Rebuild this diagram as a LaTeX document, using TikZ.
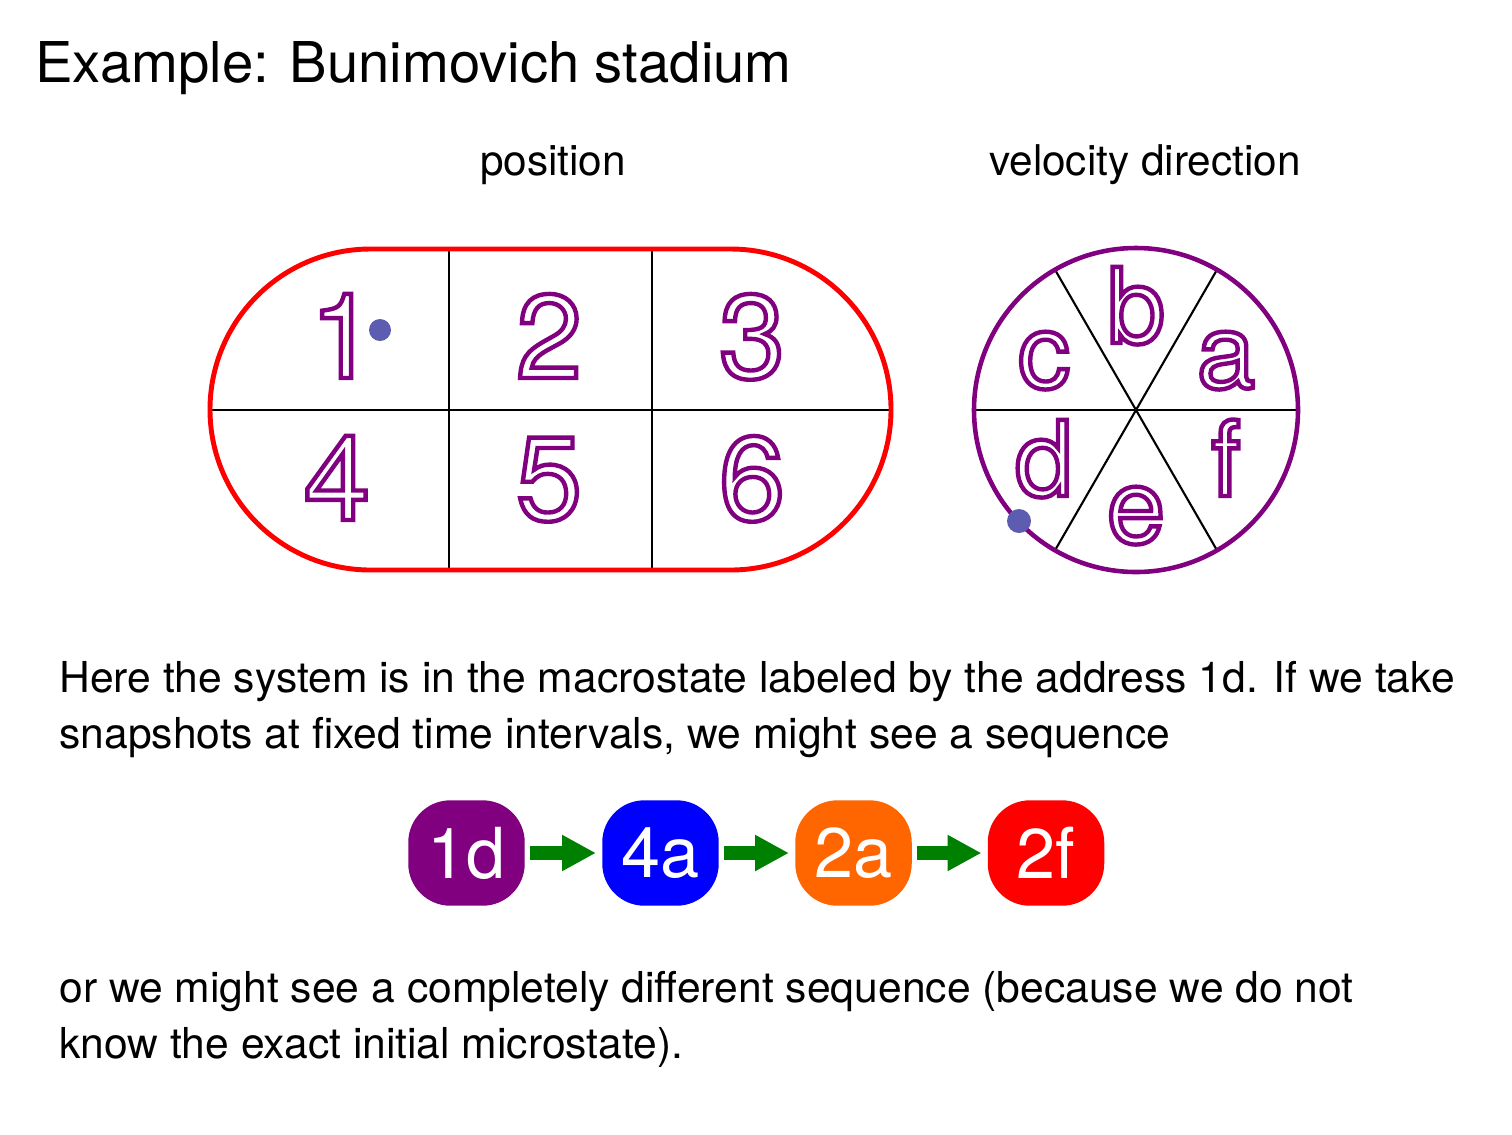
\documentclass[tikz,border=0pt]{standalone}
\usepackage{fontspec}
\setmainfont{TeX Gyre Heros}
\usetikzlibrary{arrows.meta,calc}
\definecolor{mpurple}{HTML}{800080}
\definecolor{mblue}{HTML}{0000FF}
\definecolor{morange}{HTML}{FF6600}
\definecolor{mred}{HTML}{FF0000}
\definecolor{mgreen}{HTML}{008000}
\definecolor{dotc}{RGB}{92,92,176}
\newcommand\hol[1]{\special{pdf:literal direct 1 Tr 2.5 w}#1\special{pdf:literal direct 0 Tr}}
\begin{document}
\begin{tikzpicture}[x=0.02cm,y=-0.02cm,
  txt/.style={inner sep=0pt, anchor=base west, font=\fontsize{24.25}{29}\selectfont},
  lbl/.style={inner sep=0pt, anchor=base, font=\fontsize{24.1}{29}\selectfont},
  dig/.style={inner sep=0pt, anchor=base, text=mpurple, font=\fontsize{67.5}{70}\selectfont},
  letr/.style={inner sep=0pt, anchor=base, text=mpurple, font=\fontsize{59.5}{60}\selectfont},
  macro/.style={rounded corners=24pt, minimum width=66.3pt, minimum height=60pt, inner sep=0pt, text=white, font=\fontsize{40}{40}\selectfont},
  flow/.style={draw=mgreen, line width=7.9pt, -{Triangle[length=19.3pt,width=19.3pt]}},
  wall/.style={draw=red, line width=2.8pt},
  divline/.style={draw=black, line width=1.2pt}]
\useasboundingbox (0,0) rectangle (1512,1134);
\fill[white] (0,0) rectangle (1512,1134);
% title
\node[txt, font=\fontsize{32}{36}\selectfont] (title) at (35,82) {Example: Bunimovich stadium};
\node[lbl] (poslabel) at (553,175) {position};
\node[lbl] (vellabel) at (1145,175) {velocity direction};
% stadium
\draw[divline] (210,410) -- (891,410);
\draw[divline] (449,249) -- (449,570);
\draw[divline] (652,249) -- (652,570);
\draw[wall] (370.5,249) -- (730.5,249) arc[start angle=-90,end angle=90,radius=160.5] -- (370.5,570) arc[start angle=90,end angle=270,radius=160.5] -- cycle;
\node[dig] (d1) at (343,378) {\hol{1}};
\node[dig] (d2) at (549,378) {\hol{2}};
\node[dig] (d3) at (752,378) {\hol{3}};
\node[dig] (d4) at (337,520) {\hol{4}};
\node[dig] (d5) at (549,520) {\hol{5}};
\node[dig] (d6) at (752,520) {\hol{6}};
\fill[dotc] (380,330) circle[radius=11];
% velocity circle
\coordinate (vc) at (1136,410);
\draw[divline] ($(vc)+(0:162)$) -- ($(vc)+(180:162)$);
\draw[divline] ($(vc)+(60:162)$) -- ($(vc)+(240:162)$);
\draw[divline] ($(vc)+(120:162)$) -- ($(vc)+(300:162)$);
\draw[draw=mpurple, line width=2.6pt] (vc) circle[radius=162];
\node[letr] (lb) at (1136,343) {\hol{b}};
\node[letr] (lc) at (1044,388) {\hol{c}};
\node[letr] (la) at (1226,388) {\hol{a}};
\node[letr] (ld) at (1044,496) {\hol{d}};
\node[letr] (lf) at (1226,496) {\hol{f}};
\node[letr] (le) at (1136,543) {\hol{e}};
\fill[dotc] (1019,521) circle[radius=12];
% text
\node[txt] (l1) at (59,692) {Here the system is in the macrostate labeled by the address 1d. If we take};
\node[txt] (l2) at (59,748) {snapshots at fixed time intervals, we might see a sequence};
\node[txt] (l3) at (59,1002) {or we might see a completely different sequence (because we do not};
\node[txt] (l4) at (59,1058) {know the exact initial microstate).};
% sequence
\node[macro, fill=mpurple] (s1) at (466.5,853) {1d};
\node[macro, fill=mblue] (s2) at (660.5,853) {4a};
\node[macro, fill=morange] (s3) at (853.5,853) {2a};
\node[macro, fill=mred] (s4) at (1046,853) {2f};
\draw[flow] ([xshift=2.8pt]s1.east) -- ([xshift=-3.4pt]s2.west);
\draw[flow] ([xshift=2.8pt]s2.east) -- ([xshift=-3.4pt]s3.west);
\draw[flow] ([xshift=2.8pt]s3.east) -- ([xshift=-3.4pt]s4.west);
\end{tikzpicture}
\end{document}
